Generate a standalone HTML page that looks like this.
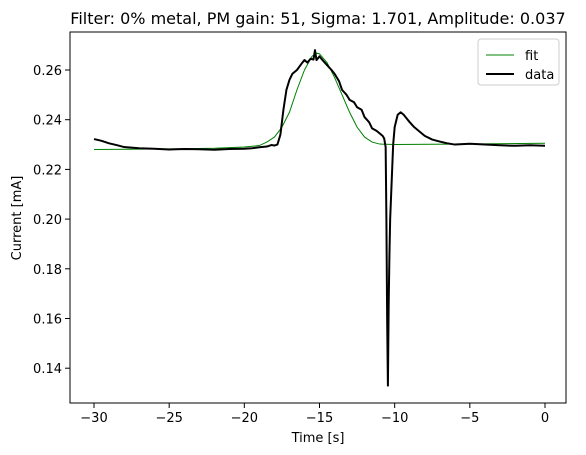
<!DOCTYPE html>
<html><head><meta charset="utf-8"><style>
body{margin:0;background:#fff;}
svg{display:block;font-family:"DejaVu Sans","Liberation Sans",sans-serif;}
</style></head><body>
<svg id="chart" width="586" height="455" xmlns="http://www.w3.org/2000/svg">
<rect width="586" height="455" fill="#fff"/>
<text x="318" y="24" font-size="16" text-anchor="middle">Filter: 0% metal, PM gain: 51, Sigma: 1.701, Amplitude: 0.037</text>
<g id="plot"></g>
<text x="318" y="442" font-size="13" text-anchor="middle">Time [s]</text>
<text transform="translate(21,218) rotate(-90)" font-size="13" text-anchor="middle">Current [mA]</text>
</svg>
<script>
const xTicks=[-30,-25,-20,-15,-10,-5,0];
const yTicks=[0.14,0.16,0.18,0.20,0.22,0.24,0.26];
const yTickLabels=["0.14","0.16","0.18","0.20","0.22","0.24","0.26"];
const xTickLabels=["\u221230","\u221225","\u221220","\u221215","\u221210","\u22125","0"];
const dataT=[-30,-29.5,-29,-28.5,-28,-27,-26,-25,-24,-23,-22,-21,-20,-19.5,-19,-18.5,-18.2,-18,-17.8,-17.6,-17.4,-17.2,-17,-16.8,-16.5,-16.2,-16,-15.8,-15.6,-15.4,-15.3,-15.2,-15,-14.8,-14.5,-14.2,-14,-13.7,-13.5,-13.2,-13,-12.7,-12.5,-12.2,-12,-11.7,-11.5,-11.2,-11,-10.8,-10.7,-10.6,-10.55,-10.5,-10.45,-10.4,-10.35,-10.3,-10.2,-10.1,-10,-9.8,-9.6,-9.4,-9.2,-9,-8.7,-8.4,-8,-7.5,-7,-6.5,-6,-5,-4,-3,-2,-1,0];
const dataV=[0.2322,0.2315,0.2305,0.2298,0.2290,0.2285,0.2283,0.2280,0.2282,0.2281,0.2279,0.2282,0.2283,0.2285,0.2289,0.2292,0.2298,0.2296,0.2300,0.2340,0.2440,0.2520,0.2560,0.2585,0.2600,0.2625,0.2640,0.2630,0.2645,0.2642,0.2680,0.2640,0.2655,0.2640,0.2620,0.2600,0.2585,0.2555,0.2520,0.2500,0.2480,0.2470,0.2450,0.2440,0.2410,0.2390,0.2365,0.2355,0.2345,0.2335,0.2325,0.2290,0.2000,0.1600,0.1330,0.1650,0.1850,0.2000,0.2150,0.2300,0.2370,0.2420,0.2430,0.2420,0.2405,0.2390,0.2370,0.2355,0.2335,0.2320,0.2312,0.2305,0.2300,0.2303,0.2300,0.2297,0.2295,0.2297,0.2295];
const fitT=[-30,-24,-22,-20,-19,-18.5,-18,-17.5,-17,-16.5,-16,-15.5,-15.2,-15,-14.5,-14,-13.5,-13,-12.5,-12,-11.5,-11,-10,-5,0];
const fitV=[0.2280,0.2283,0.2285,0.2290,0.2296,0.2310,0.2330,0.2370,0.2430,0.2520,0.2600,0.2655,0.2668,0.2665,0.2630,0.2570,0.2500,0.2430,0.2370,0.2330,0.2310,0.2302,0.2300,0.2302,0.2305];
const L=70,R=566,T=32,B=403;
const X=t=>545+(t-0)*(545-94)/30;
const Y=v=>70+(0.26-v)*2485;
const ns="http://www.w3.org/2000/svg";
const g=document.getElementById('plot');
function mk(tag,attrs){const e=document.createElementNS(ns,tag);for(const k in attrs)e.setAttribute(k,attrs[k]);g.appendChild(e);return e;}
xTicks.forEach((t,i)=>{
 const l=mk('line',{x1:X(t),x2:X(t),y1:B,y2:B+5,stroke:'#000'});
 
 
 const tx=mk('text',{x:X(t),y:B+19,'font-size':13,'text-anchor':'middle'});
 tx.textContent=xTickLabels[i];
 
 
});
yTicks.forEach((v,i)=>{
 const l=mk('line',{x1:L-5,x2:L,y1:Y(v),y2:Y(v),stroke:'#000'});
 
 
 const tx=mk('text',{x:L-8,y:Y(v)+5,'font-size':13,'text-anchor':'end'});
 tx.textContent=yTickLabels[i];
 
 
});
const fit=mk('polyline',{points:fitT.map((t,i)=>X(t)+','+Y(fitV[i])).join(' '),fill:'none',stroke:'#008000','stroke-width':1});


const dl=mk('polyline',{points:dataT.map((t,i)=>X(t)+','+Y(dataV[i])).join(' '),fill:'none',stroke:'#000','stroke-width':2,'stroke-linejoin':'round'});


const frame=mk('rect',{x:L,y:T,width:R-L,height:B-T,fill:'none',stroke:'#000','stroke-width':1});


const lg=mk('rect',{x:478,y:39,width:81,height:46,rx:3,fill:'#fff','fill-opacity':0.8,stroke:'#ccc'});


const l1=mk('line',{x1:486,x2:514,y1:55,y2:55,stroke:'#008000','stroke-width':1});


const t1=mk('text',{x:525,y:60,'font-size':13});t1.textContent='fit';


const l2=mk('line',{x1:486,x2:514,y1:74,y2:74,stroke:'#000','stroke-width':2});


const t2=mk('text',{x:525,y:79,'font-size':13});t2.textContent='data';


</script>
</body></html>
